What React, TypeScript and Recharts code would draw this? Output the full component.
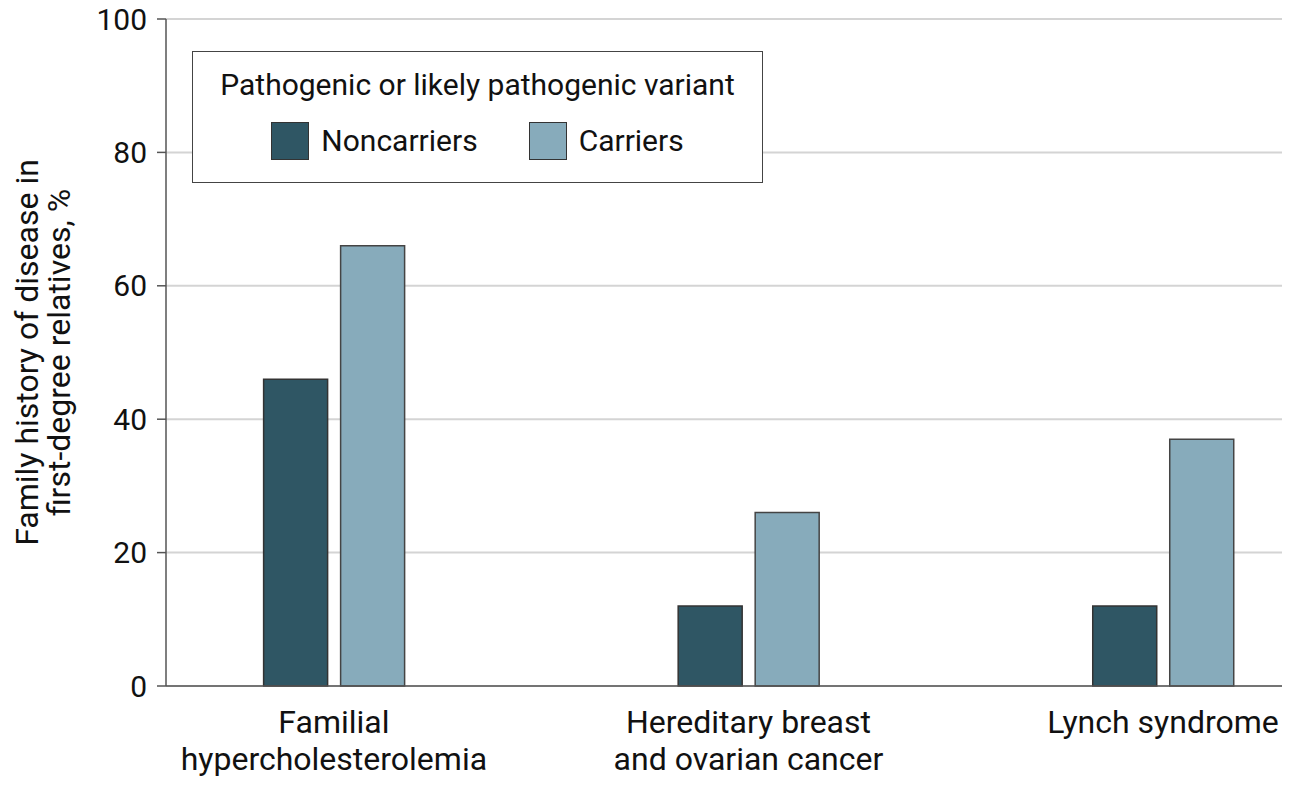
import { BarChart, Bar, XAxis, YAxis, CartesianGrid } from 'recharts';

const categories = [
  ['Familial', 'hypercholesterolemia'],
  ['Hereditary breast', 'and ovarian cancer'],
  ['Lynch syndrome'],
];
const noncarriers = [46, 12, 12];
const carriers = [66, 26, 37];
const yTicks = [0, 20, 40, 60, 80, 100];

const DARK = '#2f5664';
const LIGHT = '#87abbb';
const FONT = 'Roboto, sans-serif';

const data = categories.map((c, i) => ({
  idx: i,
  noncarriers: noncarriers[i],
  carriers: carriers[i],
}));

function CategoryTick(props: any) {
  const { x, payload } = props;
  const lines = categories[payload.value] || [];
  return (
    <g>
      {lines.map((line, i) => (
        <text key={i} x={x} y={733 + i * 37} textAnchor="middle" fill="#111" fontSize={32} fontFamily={FONT}>
          {line}
        </text>
      ))}
    </g>
  );
}

function YLabel(props: any) {
  const { viewBox } = props;
  const cy = viewBox.y + viewBox.height / 2;
  return (
    <g>
      <text x={38} y={cy} transform={`rotate(-90 38 ${cy})`} textAnchor="middle" fill="#111" fontSize={32} fontFamily={FONT}>
        Family history of disease in
      </text>
      <text x={70} y={cy} transform={`rotate(-90 70 ${cy})`} textAnchor="middle" fill="#111" fontSize={32} fontFamily={FONT}>
        first-degree relatives, %
      </text>
    </g>
  );
}

function LegendBox() {
  const item = (color: string, label: string) => (
    <div style={{ display: 'flex', alignItems: 'center', gap: 12, height: 38 }}>
      <div style={{ width: 38, height: 38, background: color, border: '1.5px solid #333', boxSizing: 'border-box' }} />
      <span>{label}</span>
    </div>
  );
  return (
    <div
      style={{
        position: 'absolute',
        left: 192,
        top: 51,
        width: 571,
        height: 132,
        border: '1.5px solid #444',
        boxSizing: 'border-box',
        background: '#fff',
        fontFamily: FONT,
        fontSize: 30,
        lineHeight: '36px',
        color: '#111',
        textAlign: 'center',
        whiteSpace: 'nowrap',
      }}
    >
      <div style={{ marginTop: 15 }}>Pathogenic or likely pathogenic variant</div>
      <div style={{ display: 'flex', justifyContent: 'center', gap: 51, marginTop: 19 }}>
        {item(DARK, 'Noncarriers')}
        {item(LIGHT, 'Carriers')}
      </div>
    </div>
  );
}

export default function App() {
  return (
    <div style={{ position: 'absolute', left: 0, top: 0, width: 1290, height: 786, background: '#fff' }}>
      <BarChart width={1290} height={786} data={data} margin={{ top: 19, right: 8, bottom: 0, left: 0 }} barGap={13}>
        <CartesianGrid vertical={false} stroke="#d4d4d4" strokeWidth={2} />
        <XAxis
          dataKey="idx"
          type="number"
          height={100}
          domain={[-0.405, 2.287]}
          ticks={[0, 1, 2]}
          allowDataOverflow
          tickLine={false}
          axisLine={{ stroke: '#555', strokeWidth: 1.5 }}
          tick={<CategoryTick />}
          interval={0}
        />
        <YAxis
          width={166}
          domain={[0, 100]}
          ticks={yTicks}
          tickSize={9}
          tickMargin={10}
          tickLine={{ stroke: '#555', strokeWidth: 1.5 }}
          axisLine={{ stroke: '#555', strokeWidth: 1.5 }}
          tick={{ fill: '#111', fontSize: 30, fontFamily: FONT }}
          label={{ content: <YLabel /> }}
        />
        <Bar dataKey="noncarriers" name="Noncarriers" fill={DARK} stroke="#333" strokeWidth={1.5} barSize={64} isAnimationActive={false} />
        <Bar dataKey="carriers" name="Carriers" fill={LIGHT} stroke="#444" strokeWidth={1.5} barSize={64} isAnimationActive={false} />
      </BarChart>
      <LegendBox />
    </div>
  );
}
